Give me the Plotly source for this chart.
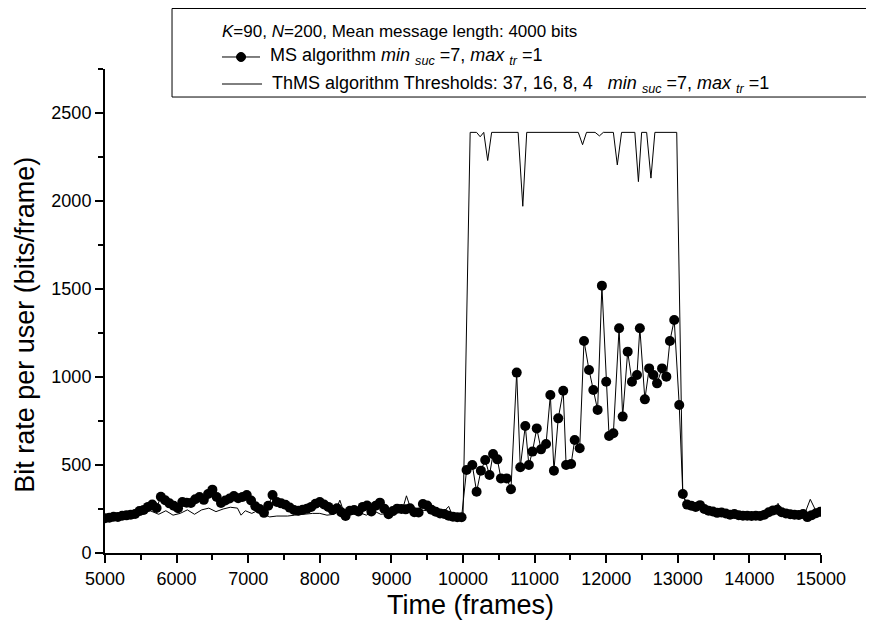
import plotly.graph_objects as go

# ---------------- data ----------------
# MS algorithm (markers + thin line)
ms_x = [5000, 5060, 5120, 5180, 5240, 5300, 5360, 5420, 5480, 5540, 5600, 5660, 5720, 5780,
        5840, 5900, 5960, 6020, 6080, 6140, 6200, 6260, 6320, 6380, 6440, 6500, 6560, 6620,
        6680, 6740, 6800, 6860, 6920, 6980, 7040, 7100, 7160, 7220, 7280, 7340, 7400, 7460,
        7520, 7580, 7640, 7700, 7760, 7820, 7880, 7940, 8000, 8060, 8120, 8180, 8240, 8300,
        8360, 8420, 8480, 8540, 8600, 8660, 8720, 8780, 8840, 8900, 8960, 9020, 9080, 9140,
        9200, 9260, 9320, 9380, 9440, 9500, 9560, 9620, 9680, 9740, 9800, 9860, 9920, 9980,
        10050, 10130, 10190, 10250, 10310, 10370, 10420, 10480, 10530, 10610, 10670, 10750,
        10800, 10870, 10920, 10970, 11030, 11090, 11160, 11220, 11270, 11330, 11400, 11440,
        11510, 11560, 11630, 11690, 11760, 11820, 11880, 11940, 12000, 12040, 12100, 12180,
        12230, 12300, 12360, 12430, 12470, 12540, 12600, 12660, 12710, 12780, 12840, 12890,
        12950, 13020,
        13070, 13130, 13190, 13250, 13310, 13370, 13430, 13490, 13550, 13610, 13670, 13730,
        13790, 13850, 13910, 13970, 14030, 14090, 14150, 14210, 14270, 14330, 14390, 14450,
        14510, 14570, 14630, 14690, 14750, 14810, 14870, 14930, 14990]
ms_y = [197, 200, 206, 205, 212, 214, 218, 222, 238, 245, 262, 275, 256, 320,
        300, 282, 268, 254, 290, 286, 284, 305, 318, 302, 335, 360, 318, 284,
        298, 310, 324, 311, 318, 330, 298, 266, 250, 228, 268, 330, 290, 282,
        274, 258, 244, 240, 246, 252, 262, 280, 290, 276, 262, 244, 254, 232,
        210, 240, 244, 236, 262, 270, 236, 268, 286, 252, 220, 238, 252, 250,
        248, 254, 232, 230, 278, 270, 246, 234, 225, 222, 212, 206, 203, 203,
        472, 500, 348, 468, 528, 443, 562, 532, 424, 424, 362, 1025,
        487, 722, 500, 576, 708, 589, 619, 898, 468, 765, 922, 500,
        506, 642, 595, 1205, 1040, 926, 813, 1519, 973, 665, 680, 1277,
        775, 1144, 973, 1011, 1277, 873, 1049, 1011, 964, 1049, 1002, 1205,
        1324, 841,
        335, 275, 268, 262, 272, 250, 240, 236, 228, 230, 224, 218,
        222, 215, 212, 212, 210, 212, 210, 218, 232, 242, 246, 232,
        225, 220, 218, 216, 222, 204, 215, 226, 234]

# ThMS algorithm (thin line)
th_x = [5000, 5160, 5350, 5490, 5630, 5750, 5850, 5950, 6050, 6150, 6250, 6350, 6450, 6550,
        6650, 6750, 6850, 6900, 6960, 7050, 7150, 7250, 7300, 7400, 7550, 7650, 7750, 7900,
        8000, 8100, 8200, 8280, 8350, 8450, 8550, 8650, 8750, 8850, 8950, 9050, 9150, 9210,
        9280, 9400, 9500, 9600, 9700, 9800, 9850, 9950, 10000,
        10100, 10190, 10240, 10290, 10345, 10400, 10770, 10835, 10890, 11610, 11670, 11725,
        11845, 11905, 11960, 12100, 12155, 12215, 12400, 12450, 12495, 12565, 12625, 12680,
        12985, 13070,
        13130, 13190, 13250, 13310, 13400, 13470, 13560, 13660, 13750, 13850, 13950,
        14040, 14150, 14250, 14330, 14400, 14450, 14520, 14610, 14700, 14770, 14850, 14940,
        14990]
th_y = [195, 205, 215, 230, 240, 220, 240, 215, 225, 245, 220, 245, 255, 235,
        250, 260, 255, 215, 240, 225, 245, 215, 205, 210, 210, 215, 220, 225,
        225, 215, 220, 300, 215, 225, 230, 215, 240, 220, 225, 235, 240, 325,
        240, 245, 240, 225, 220, 265, 215, 205, 205,
        2390, 2390, 2365, 2390, 2230, 2390, 2390, 1970, 2390, 2390, 2320, 2390,
        2390, 2370, 2390, 2390, 2205, 2390, 2390, 2110, 2390, 2390, 2130, 2390,
        2390, 330,
        270, 262, 265, 245, 235, 225, 230, 215, 220, 210, 215,
        210, 212, 225, 240, 282, 240, 228, 222, 215, 220, 305, 230,
        235]

x_ticks = [5000, 6000, 7000, 8000, 9000, 10000, 11000, 12000, 13000, 14000, 15000]
y_ticks = [0, 500, 1000, 1500, 2000, 2500]

NB = "\u00a0"
title_text = "<i>K</i>=90, <i>N</i>=200, Mean message length: 4000 bits"
ms_name = (f"MS algorithm <i>min</i>{NB}<sub><i>suc</i></sub>{NB}=7, "
           f"<i>max</i>{NB}<sub><i>tr</i></sub>{NB}=1")
th_name = (f"ThMS algorithm Thresholds: 37, 16, 8, 4{NB}{NB}{NB}<i>min</i>{NB}<sub><i>suc</i></sub>{NB}=7, "
           f"<i>max</i>{NB}<sub><i>tr</i></sub>{NB}=1")

FONT = "Liberation Sans, Arial, sans-serif"

fig = go.Figure()
fig.add_trace(go.Scatter(
    x=ms_x, y=ms_y, mode="lines+markers", name="MS algorithm", showlegend=False,
    line=dict(color="black", width=1),
    marker=dict(color="black", size=10)))
fig.add_trace(go.Scatter(
    x=th_x, y=th_y, mode="lines", name="ThMS algorithm", showlegend=False,
    line=dict(color="black", width=1)))

# --- hand-built legend box (paper coordinates) ---
title_font = dict(size=17, family=FONT, color="black")
item_font = dict(size=18, family=FONT, color="black")
y1, y2, y3 = 1.0785, 1.0248, 0.969
shapes = [
    dict(type="rect", xref="paper", yref="paper", x0=0.0936, x1=1.08, y0=0.9421, y1=1.125,
         line=dict(color="black", width=1), fillcolor="rgba(0,0,0,0)"),
    dict(type="line", xref="paper", yref="paper", x0=0.1634, x1=0.2165, y0=y2, y1=y2,
         line=dict(color="black", width=1)),
    dict(type="circle", xref="paper", yref="paper", x0=0.19 - 0.0063, x1=0.19 + 0.0063,
         y0=y2 - 0.0093, y1=y2 + 0.0093, line=dict(color="black", width=1), fillcolor="black"),
    dict(type="line", xref="paper", yref="paper", x0=0.1634, x1=0.2193, y0=y3, y1=y3,
         line=dict(color="black", width=1)),
]
annotations = [
    dict(text=title_text, x=0.1606, y=y1, xref="paper", yref="paper",
         xanchor="left", yanchor="middle", showarrow=False, font=title_font),
    dict(text=ms_name, x=0.2277, y=y2, xref="paper", yref="paper",
         xanchor="left", yanchor="middle", showarrow=False, font=item_font),
    dict(text=th_name, x=0.2304, y=y3, xref="paper", yref="paper",
         xanchor="left", yanchor="middle", showarrow=False, font=item_font),
    dict(text="Time (frames)", x=0.51, y=-0.107, xref="paper", yref="paper",
         xanchor="center", yanchor="middle", showarrow=False,
         font=dict(size=27, family=FONT, color="black")),
    dict(text="Bit rate per user (bits/frame)", x=-0.112, y=0.471, xref="paper", yref="paper",
         xanchor="center", yanchor="middle", showarrow=False, textangle=-90,
         font=dict(size=27, family=FONT, color="black")),
]

fig.update_layout(
    width=866, height=616,
    margin=dict(l=97, r=53, t=61, b=71, autoexpand=False),
    paper_bgcolor="white", plot_bgcolor="white",
    font=dict(family=FONT, color="black", size=18),
    showlegend=False,
    shapes=shapes, annotations=annotations,
)

fig.update_xaxes(
    range=[5000, 15000], tickvals=x_ticks, ticktext=[str(v) for v in x_ticks],
    showgrid=False, zeroline=False, showline=True, linecolor="black", linewidth=2,
    ticks="outside", ticklen=8, tickwidth=2, tickcolor="black",
    tickfont=dict(size=18, family=FONT), automargin=False,
    minor=dict(dtick=500, tick0=5000, ticks="outside", ticklen=5, tickwidth=1.5, tickcolor="black"),
)
fig.update_yaxes(
    range=[0, 2750], tickvals=y_ticks, ticktext=[str(v) for v in y_ticks],
    showgrid=False, zeroline=False, showline=True, linecolor="black", linewidth=2,
    ticks="outside", ticklen=8, tickwidth=2, tickcolor="black",
    tickfont=dict(size=18, family=FONT), automargin=False,
    minor=dict(dtick=250, tick0=0, ticks="outside", ticklen=5, tickwidth=1.5, tickcolor="black"),
)

fig.write_html("out.html")
